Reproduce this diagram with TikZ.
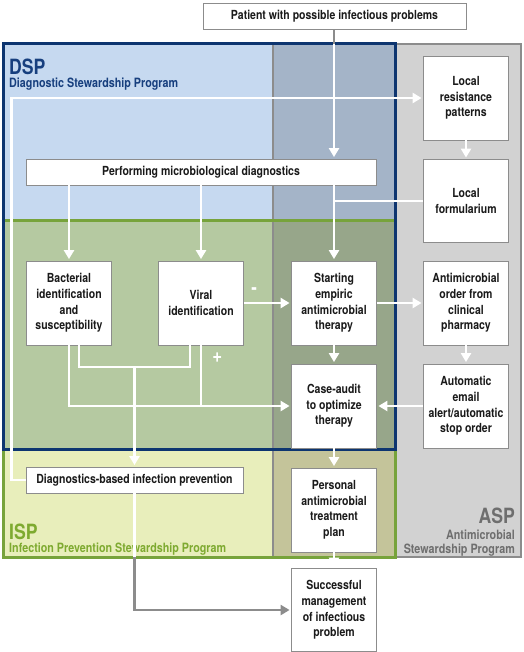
\documentclass[tikz,border=0pt]{standalone}
\usepackage{fontspec}
\setmainfont{TeX Gyre Heros}[FakeStretch=0.84]
\usetikzlibrary{arrows.meta}
\definecolor{dspfill}{HTML}{C6D9F0}
\definecolor{dspmid}{HTML}{A4B4C8}
\definecolor{ispfill}{HTML}{B5C9A1}
\definecolor{ispmid}{HTML}{97A68A}
\definecolor{isplight}{HTML}{E8EEBB}
\definecolor{isplightmid}{HTML}{C4C49A}
\definecolor{aspfill}{HTML}{D2D2D2}
\definecolor{dspline}{HTML}{0D3570}
\definecolor{ispline}{HTML}{77A33B}
\definecolor{aspline}{HTML}{8C8C8C}
\definecolor{dsptext}{HTML}{173F7E}
\definecolor{isptext}{HTML}{7EAA30}
\definecolor{asptext}{HTML}{6E6E6E}
\definecolor{boxtext}{HTML}{1A1A1A}
\tikzset{
  box/.style={draw=aspline, fill=white, line width=0.8pt, align=center, inner sep=1pt,
    text=boxtext, font=\fontsize{12.5}{15.6}\selectfont\bfseries},
  sq/.style={box, minimum width=85pt, minimum height=84pt},
  bar/.style={box, minimum height=26pt},
  flow/.style={draw=white, line width=2.6pt, -{Triangle[width=10pt,length=9pt]}, shorten >=1.5pt},
  link/.style={draw=white, line width=2.6pt},
  outflow/.style={draw=aspline, line width=2.6pt, -{Triangle[width=10pt,length=9pt]}, shorten >=1.5pt},
  sign/.style={text=white, font=\fontsize{20}{20}\selectfont\bfseries, inner sep=0pt},
  title/.style={anchor=base west, inner sep=0pt, font=\fontsize{21}{21}\selectfont\bfseries},
  subtitle/.style={anchor=base west, inner sep=0pt, font=\fontsize{12.8}{14}\selectfont\bfseries},
}
\begin{document}
\begin{tikzpicture}[x=1pt,y=-1pt]
\useasboundingbox (0,0) rectangle (523,652);
% ------ programs -------------------
\fill[aspfill] (273,44) rectangle (521,557);
\fill[dspfill] (3,44) rectangle (273,220);
\fill[dspmid] (273,44) rectangle (395,220);
\fill[ispfill] (3,220) rectangle (273,449);
\fill[ispmid] (273,220) rectangle (395,449);
\fill[isplight] (3,449) rectangle (273,557);
\fill[isplightmid] (273,449) rectangle (395,557);
\draw[aspline, line width=2.5pt] (273,44) rectangle (521,557);
\draw[ispline, line width=3pt] (3,220) rectangle (395,557);
\draw[dspline, line width=3pt] (3,44) rectangle (395,449);
\node[title, text=dsptext] (dsp) at (9,75) {DSP};
\node[subtitle, text=dsptext] (dspname) at (9,88) {Diagnostic Stewardship Program};
\node[title, text=isptext] (isp) at (9,539) {ISP};
\node[subtitle, text=isptext] (ispname) at (9,552) {Infection Prevention Stewardship Program};
\node[title, anchor=base east, text=asptext] (asp) at (515,523) {ASP};
\node[subtitle, anchor=base east, align=right, text=asptext] (aspname) at (515,553)
  {Antimicrobial\\Stewardship Program};
% ------ steps -------------------
\node[bar, minimum width=263pt] (patient) at (334.5,16) {Patient with possible infectious problems};
\node[sq] (resist) at (466,98) {Local\\resistance\\patterns};
\node[sq, minimum height=83pt] (formul) at (466,201) {Local\\formularium};
\node[bar, minimum width=350pt] (perform) at (201,172) {Performing microbiological diagnostics};
\node[sq] (bact) at (69,303) {Bacterial\\identification\\and\\susceptibility};
\node[sq] (viral) at (201,303) {Viral\\identification};
\node[sq] (start) at (334,303) {Starting\\empiric\\antimicrobial\\therapy};
\node[sq] (order) at (466,303) {Antimicrobial\\order from\\clinical\\pharmacy};
\node[sq] (audit) at (334,406) {Case-audit\\to optimize\\therapy};
\node[sq] (alert) at (466,406) {Automatic\\email\\alert/automatic\\stop order};
\node[bar, minimum width=217pt] (prevent) at (134.5,480) {Diagnostics-based infection prevention};
\node[sq] (plan) at (334,510) {Personal\\antimicrobial\\treatment\\plan};
\node[sq, minimum height=83pt] (success) at (334,610) {Successful\\management\\of infectious\\problem};
% ------ flows -------------------
\coordinate (entry) at (334,44);
\draw[aspline, line width=2.6pt] (patient.south -| entry) -- (entry);
\draw[flow] (entry) -- (perform.north -| entry);
\draw[flow] (perform.south -| start) -- (start.north);
\draw[link] (formul.west) -- (formul.west -| start);
\draw[flow] (prevent.west) -- ++(-14,0) |- (resist.west);
\draw[flow] (resist) -- (formul);
\draw[flow] (perform.south -| bact) -- (bact.north);
\draw[flow] (perform.south -| viral) -- (viral.north);
\draw[flow] (viral) -- node[sign, pos=0.22, above=7pt] {-} (start);
\draw[flow] (start) -- (order);
\draw[flow] (start) -- (audit);
\draw[flow] (order) -- (alert);
\draw[flow] (alert) -- (audit);
\draw[flow] (bact.south) |- (audit.west);
\draw[link] (viral.south) -- node[sign, pos=0.2, right=10pt] {+} (viral.south |- audit.west);
\coordinate (join) at (134.5,367);
\draw[link] ([xshift=10pt]bact.south) |- (join) -| ([xshift=-11pt]viral.south);
\draw[flow] (join) -- (join |- prevent.north);
\coordinate (exit) at (134.5,557);
\draw[link] (prevent.south) -- (exit);
\draw[outflow] (exit) |- (success.west);
\draw[flow] (audit) -- (plan);
\draw[flow] (plan) -- (success);
\end{tikzpicture}
\end{document}
